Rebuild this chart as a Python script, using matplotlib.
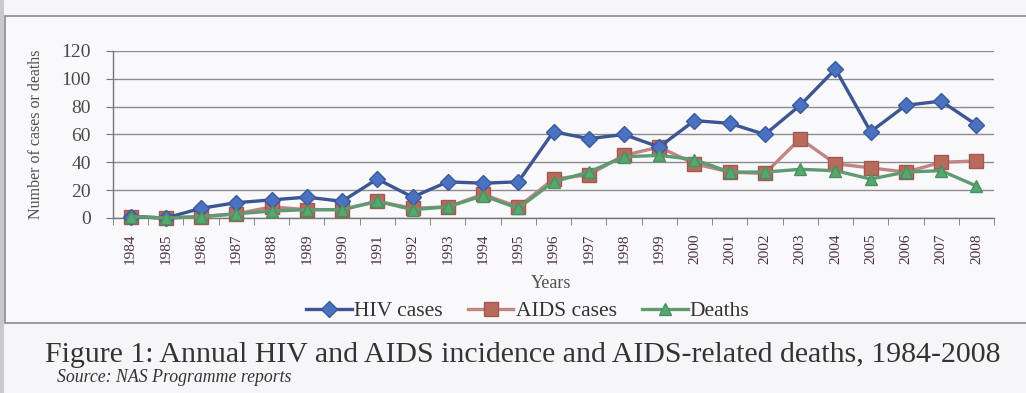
import matplotlib
matplotlib.use("Agg")
import matplotlib.pyplot as plt
from matplotlib.patches import Rectangle

years = [str(y) for y in range(1984, 2009)]
hiv_cases = [1, 0, 7, 11, 13, 15, 12, 28, 15, 26, 25, 26, 62, 57, 60, 51, 70, 68, 60, 81, 107, 62, 81, 84, 67]
aids_cases = [1, 0, 1, 3, 8, 6, 6, 12, 7, 8, 17, 8, 28, 31, 45, 51, 39, 33, 32, 57, 39, 36, 33, 40, 41]
deaths = [1, 0, 1, 3, 5, 6, 6, 12, 6, 8, 16, 7, 26, 33, 44, 45, 42, 33, 33, 35, 34, 28, 33, 34, 23]
yticks = [0, 20, 40, 60, 80, 100, 120]

SERIF = ['Liberation Serif', 'DejaVu Serif']
plt.rcParams['font.family'] = SERIF

W, H = 1026, 393
fig = plt.figure(figsize=(W / 100, H / 100), dpi=100)
fig.patch.set_facecolor('#f6f6f8')

# scanned page frame (behind the axes)
fig.add_artist(Rectangle((5 / W, 1 - 323 / H), 1.2, (323 - 16) / H, transform=fig.transFigure,
                         facecolor='#f9f9fb', edgecolor='#8a8a8a', lw=1.2, zorder=-10))
fig.add_artist(Rectangle((0, 0), 4 / W, 1, transform=fig.transFigure,
                         facecolor='#c9c9cc', edgecolor='none', zorder=-10))

ax = fig.add_axes([113 / W, 1 - 218 / H, (994 - 113) / W, (218 - 51) / H])
ax.set_facecolor('none')

x = list(range(len(years)))
ax.plot(x, hiv_cases, color='#3d5590', lw=2.4, marker='D', ms=8, mfc='#4a72c0', mec='#3a5aa0',
        label='HIV cases', clip_on=False, zorder=5)
ax.plot(x, aids_cases, color='#c08585', lw=2.4, marker='s', ms=9.5, mfc='#b86a5c', mec='#a05a50',
        label='AIDS cases', clip_on=False, zorder=4)
ax.plot(x, deaths, color='#5f9a72', lw=2.4, marker='^', ms=8.5, mfc='#55a870', mec='#4a9060',
        label='Deaths', clip_on=False, zorder=6)

ax.set_xlim(-0.5, len(years) - 0.5)
ax.set_ylim(0, 120)
ax.set_yticks(yticks)
ax.set_yticklabels([str(v) for v in yticks], fontsize=14, color='#4a4a4a')
ax.yaxis.grid(True, color='#8c8c8c', lw=1.0)
ax.set_axisbelow(True)

ax.set_xticks(x)
ax.set_xticklabels(years, rotation=90, fontsize=11, color='#4a3040')
ax.tick_params(axis='x', length=0, pad=11)
ax.set_xticks([i - 0.5 for i in range(len(years) + 1)], minor=True)
ax.tick_params(axis='x', which='minor', length=5, color='#777777', direction='out')
ax.tick_params(axis='y', length=5, color='#777777', pad=11)

for s in ['top', 'right']:
    ax.spines[s].set_visible(False)
for s in ['left', 'bottom']:
    ax.spines[s].set_color('#777777')
    ax.spines[s].set_linewidth(1.0)

ax.set_ylabel('Number of cases or deaths', fontsize=11.5, color='#505050')
ax.yaxis.set_label_coords(-0.078, 0.5)
ax.set_xlabel('Years', fontsize=13, color='#505050')
ax.xaxis.set_label_coords(0.497, -0.34)

leg = fig.legend(loc='center', bbox_to_anchor=(528 / W, 1 - 311 / H), ncol=3, frameon=False,
                 fontsize=15.5, handlelength=2.1, columnspacing=1.2, handletextpad=0.1)
for t in leg.get_texts():
    t.set_color('#333333')

fig.text(45 / W, 1 - 355 / H, 'Figure 1: Annual HIV and AIDS incidence and AIDS-related deaths, 1984-2008',
         fontsize=21.5, color='#333333', va='center', ha='left')
fig.text(57 / W, 1 - 377 / H, 'Source: NAS Programme reports', fontsize=12.8, style='italic',
         color='#333333', va='center', ha='left')

fig.savefig('out.png', dpi=100, facecolor=fig.get_facecolor())
